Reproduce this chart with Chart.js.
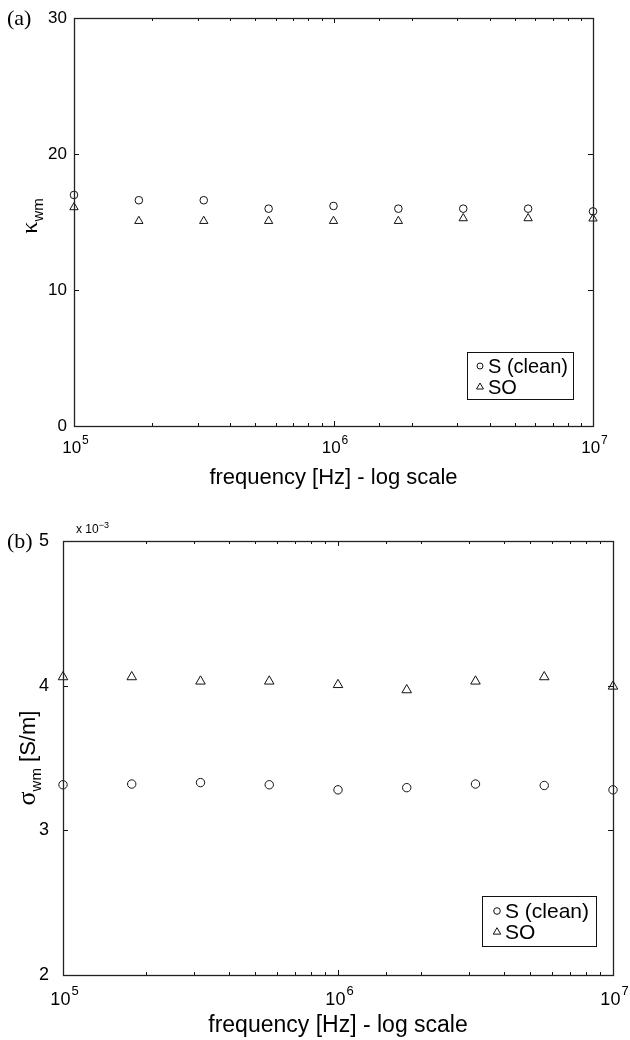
<!DOCTYPE html>
<html><head><meta charset="utf-8">
<script src="https://cdn.jsdelivr.net/npm/chart.js@4.4.1/dist/chart.umd.min.js"></script>
<style>
html,body{margin:0;padding:0;background:#fff;width:630px;height:1040px;overflow:hidden}
#ca{position:absolute;left:0;top:0}
#cb{position:absolute;left:0;top:510px}
</style></head><body>
<canvas id="ca" width="630" height="510"></canvas>
<canvas id="cb" width="630" height="530"></canvas>
<script>
// ---- data ----
const freqs = [1e5, 1.778e5, 3.162e5, 5.623e5, 1e6, 1.778e6, 3.162e6, 5.623e6, 1e7];
const kappaClean = [16.99, 16.6, 16.6, 15.98, 16.18, 15.98, 15.98, 15.98, 15.78];
const kappaSO = [16.08, 15.07, 15.07, 15.07, 15.07, 15.07, 15.27, 15.27, 15.25];
const sigmaClean = [3.315e-3, 3.32e-3, 3.33e-3, 3.315e-3, 3.28e-3, 3.295e-3, 3.32e-3, 3.31e-3, 3.28e-3];
const sigmaSO = [4.06e-3, 4.06e-3, 4.03e-3, 4.03e-3, 4.006e-3, 3.97e-3, 4.03e-3, 4.06e-3, 3.995e-3];
const seriesLabels = ['S (clean)', 'SO'];
const xTickPowers = [5, 6, 7];
const kappaRange = [0, 30, 10];
const sigmaRange = [0.002, 0.005, 0.001];
const xTitle = 'frequency [Hz] - log scale';

const SANS = '"Liberation Sans", Arial, Helvetica, sans-serif';
const SERIF = '"Liberation Serif", "Times New Roman", serif';
Chart.defaults.color = '#000';
Chart.defaults.font.family = SANS;

function pts(vals) { return freqs.map((f, i) => ({x: f, y: vals[i]})); }

function marker(ctx, style, x, y, r) {
  ctx.beginPath();
  if (style === 'circle') {
    ctx.arc(x, y, r, 0, Math.PI * 2);
  } else {
    let rad = 0;
    ctx.moveTo(x + Math.sin(rad) * r, y - Math.cos(rad) * r);
    rad += 2 * Math.PI / 3;
    ctx.lineTo(x + Math.sin(rad) * r, y - Math.cos(rad) * r);
    rad += 2 * Math.PI / 3;
    ctx.lineTo(x + Math.sin(rad) * r, y - Math.cos(rad) * r);
    ctx.closePath();
  }
  ctx.stroke();
}

function drawRuns(ctx, runs, x, y, align) {
  let total = 0;
  runs.forEach(r => { ctx.font = r[1]; total += ctx.measureText(r[0]).width; });
  let cx = align === 'center' ? x - total / 2 : x;
  runs.forEach(r => {
    ctx.font = r[1];
    ctx.fillText(r[0], cx, y + (r[2] || 0));
    cx += ctx.measureText(r[0]).width;
  });
}

function decor(cfg) {
  return {
    id: 'decor',
    afterDraw(chart) {
      const ctx = chart.ctx, a = chart.chartArea;
      const xs = chart.scales.x, ys = chart.scales.y;
      ctx.save();
      ctx.strokeStyle = '#111';
      ctx.lineWidth = 1;
      // inward ticks
      ctx.beginPath();
      xs.ticks.forEach(t => {
        const v = t.value;
        const p = Math.log10(v);
        const major = Math.abs(p - Math.round(p)) < 1e-9;
        const len = major ? 5 : 3;
        const x = Math.round(xs.getPixelForValue(v)) + 0.5;
        ctx.moveTo(x, a.bottom); ctx.lineTo(x, a.bottom - len);
        ctx.moveTo(x, a.top); ctx.lineTo(x, a.top + len);
      });
      ys.ticks.forEach(t => {
        const y = Math.round(ys.getPixelForValue(t.value)) + 0.5;
        ctx.moveTo(a.left, y); ctx.lineTo(a.left + 5, y);
        ctx.moveTo(a.right, y); ctx.lineTo(a.right - 5, y);
      });
      ctx.stroke();
      // frame
      ctx.lineWidth = 1.3;
      ctx.strokeStyle = '#222';
      ctx.strokeRect(a.left + 0.5, a.top + 0.5, a.right - a.left, a.bottom - a.top);

      ctx.fillStyle = '#000';
      ctx.textBaseline = 'alphabetic';
      // x tick labels 10^p
      xTickPowers.forEach(p => {
        const x = xs.getPixelForValue(Math.pow(10, p));
        ctx.font = cfg.xtFont + 'px ' + SANS;
        const w1 = ctx.measureText('10').width;
        ctx.font = cfg.xeFont + 'px ' + SANS;
        const w2 = ctx.measureText(String(p)).width;
        const sx = x - (w1 + w2) / 2 + 1;
        ctx.font = cfg.xtFont + 'px ' + SANS;
        ctx.textAlign = 'left';
        ctx.fillText('10', sx, a.bottom + cfg.xtBase);
        ctx.font = cfg.xeFont + 'px ' + SANS;
        ctx.fillText(String(p), sx + w1 + 1, a.bottom + cfg.xtBase - cfg.xeRaise);
      });
      // x title
      ctx.textAlign = 'left';
      ctx.textBaseline = 'middle';
      drawRuns(ctx, [[xTitle, cfg.titleFont + 'px ' + SANS, 0]], (a.left + a.right) / 2, a.bottom + cfg.xTitleOff, 'center');
      // y title (rotated)
      ctx.save();
      ctx.translate(cfg.yTitleX, (a.top + a.bottom) / 2 + cfg.yTitleDy);
      ctx.rotate(-Math.PI / 2);
      ctx.textBaseline = 'alphabetic';
      drawRuns(ctx, cfg.yTitleRuns, 0, 0, 'center');
      ctx.restore();
      // panel letter
      ctx.textBaseline = 'middle';
      ctx.textAlign = 'left';
      ctx.font = '22px ' + SERIF;
      ctx.fillText(cfg.letter, 7, a.top + 1);
      // exponent note
      if (cfg.expNote) {
        ctx.textBaseline = 'alphabetic';
        drawRuns(ctx, [['x 10', '12px ' + SANS, 0], ['\u22123', '9px ' + SANS, -5]], a.left + 13, a.top - 8, 'left');
      }
      // legend
      const L = cfg.legend;
      const bx = a.right - L.dr - L.w, by = a.bottom - L.db - L.h;
      ctx.fillStyle = '#fff';
      ctx.fillRect(bx, by, L.w, L.h);
      ctx.lineWidth = 1;
      ctx.strokeStyle = '#111';
      ctx.strokeRect(Math.round(bx) + 0.5, Math.round(by) + 0.5, L.w, L.h);
      ctx.fillStyle = '#000';
      ctx.textBaseline = 'middle';
      ctx.textAlign = 'left';
      chart.data.datasets.forEach((ds, i) => {
        const cy = by + L.row0 + i * L.rowH;
        ctx.lineWidth = 1;
        marker(ctx, ds.pointStyle, bx + L.mx, cy, ds.pointStyle === 'circle' ? L.cr : L.tr);
        ctx.font = L.font + 'px ' + SANS;
        ctx.fillText(ds.label, bx + L.tx, cy + 1);
      });
      ctx.restore();
    }
  };
}

function makeChart(id, cfg) {
  const ds = (label, vals, style, r) => ({
    label, data: pts(vals), pointStyle: style, pointRadius: r, pointHoverRadius: r,
    pointBorderWidth: 1, borderColor: '#111', backgroundColor: 'rgba(0,0,0,0)',
    pointBackgroundColor: 'rgba(0,0,0,0)', pointBorderColor: '#111', showLine: false, clip: false
  });
  return new Chart(document.getElementById(id), {
    type: 'scatter',
    data: {
      datasets: [
        ds(seriesLabels[0], cfg.clean, 'circle', cfg.cr),
        ds(seriesLabels[1], cfg.so, 'triangle', cfg.tr)
      ]
    },
    options: {
      responsive: false, animation: false, devicePixelRatio: 1,
      layout: {padding: cfg.padding},
      plugins: {legend: {display: false}, tooltip: {enabled: false}},
      scales: {
        x: {
          type: 'logarithmic', min: 1e5, max: 1e7,
          grid: {display: false, drawTicks: false}, border: {display: false},
          ticks: {display: false, autoSkip: false},
          afterFit: s => { s.height = cfg.xh; }
        },
        y: {
          type: 'linear', min: cfg.yr[0], max: cfg.yr[1],
          grid: {display: false, drawTicks: false}, border: {display: false},
          ticks: {stepSize: cfg.yr[2], padding: cfg.ytPad, font: {size: cfg.ytFont, family: SANS}, color: '#000',
            callback: cfg.ytCb},
          afterFit: s => { s.width = cfg.yw; }
        }
      }
    },
    plugins: [decor(cfg)]
  });
}

makeChart('ca', {
  clean: kappaClean, so: kappaSO, cr: 3.8, tr: 4.8,
  padding: {left: 0, top: 18, right: 37, bottom: 0}, yw: 74, xh: 84,
  yr: kappaRange, ytPad: 7, ytFont: 17, ytCb: v => String(Math.round(v)),
  xtFont: 17, xeFont: 12, xtBase: 27, xeRaise: 9, titleFont: 22, xTitleOff: 52,
  yTitleX: 37, yTitleDy: -6,
  yTitleRuns: [['\u03ba', '24px ' + SERIF, 0], ['wm', '15px ' + SANS, 6]],
  letter: '(a)', expNote: false,
  legend: {w: 106, h: 47, dr: 20, db: 27, row0: 14, rowH: 21, mx: 13, cr: 3, tr: 4, tx: 21, font: 20}
});

makeChart('cb', {
  clean: sigmaClean, so: sigmaSO, cr: 4.2, tr: 5.5,
  padding: {left: 0, top: 31, right: 17, bottom: 0}, yw: 63, xh: 65,
  yr: sigmaRange, ytPad: 14, ytFont: 18, ytCb: v => String(Math.round(v * 1000)),
  xtFont: 18, xeFont: 13, xtBase: 30, xeRaise: 10, titleFont: 23, xTitleOff: 51,
  yTitleX: 35, yTitleDy: 0,
  yTitleRuns: [['\u03c3', '26px ' + SERIF, 0], ['wm', '15px ' + SANS, 6], [' [S/m]', '22px ' + SANS, 0]],
  letter: '(b)', expNote: true,
  legend: {w: 114, h: 50, dr: 17, db: 29, row0: 15, rowH: 21, mx: 15, cr: 3.3, tr: 4.3, tx: 23, font: 21}
});
</script>
</body></html>
